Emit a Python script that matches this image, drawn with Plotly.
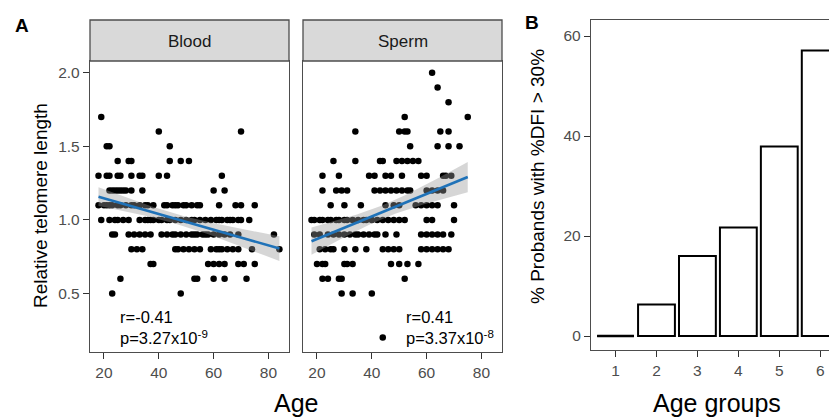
import numpy as np
import plotly.graph_objects as go

# page body has an 8px margin: the figure is sized to fill the rest of the 837x418 window
OFF = 8
W, H = 837 - OFF, 418 - OFF

# ---------------- data ----------------
blood_rows = {
    1.7: [19],
    1.6: [40, 70],
    1.5: [21, 22, 44],
    1.4: [25, 29, 30, 44, 48, 51],
    1.3: [18, 21, 22, 25, 26, 30, 33, 34, 40, 43, 63],
    1.2: [22, 23, 24, 25, 26, 27, 28, 30, 34, 60, 64],
    1.1: [18, 20, 21, 22, 23, 25, 26, 28, 30, 31, 33, 35, 36, 38, 42, 43, 45, 46, 47, 49, 50, 52, 54, 55, 62, 68, 70, 75],
    1.0: [19, 22, 24, 25, 27, 29, 33, 35, 36, 37, 38, 40, 41, 43, 44, 46, 48, 50, 52, 53, 55, 57, 59, 61, 62, 63, 65, 66, 67, 69, 70, 73],
    0.9: [23, 24, 29, 31, 33, 35, 37, 41, 43, 45, 46, 48, 50, 52, 53, 54, 56, 57, 58, 60, 62, 64, 66, 69, 82],
    0.8: [30, 32, 34, 46, 47, 49, 51, 53, 55, 59, 61, 62, 63, 65, 67, 69, 74, 84],
    0.7: [37, 38, 58, 60, 62, 64, 69, 71, 75],
    0.6: [26, 53, 54, 60, 64, 72],
    0.5: [23, 48],
}
sperm_rows = {
    2.0: [62],
    1.9: [64],
    1.8: [68],
    1.7: [52, 75],
    1.6: [34, 50, 52, 53, 65, 68],
    1.5: [54, 64, 68, 72],
    1.4: [26, 34, 43, 44, 49, 51, 53, 55, 57],
    1.3: [22, 28, 39, 41, 45, 47, 51, 58, 60, 66, 67, 69],
    1.2: [22, 27, 29, 31, 41, 43, 45, 47, 49, 51, 53, 54, 60, 62, 64, 66],
    1.1: [25, 30, 36, 45, 48, 50, 56, 58, 60, 62, 64, 70],
    1.0: [18, 19, 21, 22, 24, 25, 27, 28, 30, 31, 33, 35, 37, 38, 40, 42, 44, 46, 48, 50, 52, 60, 62, 70],
    0.9: [19, 21, 24, 26, 28, 30, 32, 34, 35, 37, 39, 41, 42, 45, 49, 58, 60, 62, 64, 66, 69],
    0.8: [21, 23, 25, 26, 30, 34, 38, 44, 46, 48, 50, 58, 60, 62, 64, 66, 68],
    0.7: [20, 22, 23, 30, 31, 33, 47, 50, 53, 57],
    0.6: [22, 24, 28, 29, 52],
    0.5: [29, 33, 40],
    0.2: [44],
}
blood_age = [a for v, ages in blood_rows.items() for a in ages]
blood_rtl = [v for v, ages in blood_rows.items() for a in ages]
sperm_age = [a for v, ages in sperm_rows.items() for a in ages]
sperm_rtl = [v for v, ages in sperm_rows.items() for a in ages]

blood_label = "r=-0.41<br>p=3.27x10<sup>-9</sup>"
sperm_label = "r=0.41<br>p=3.37x10<sup>-8</sup>"

age_groups = [1, 2, 3, 4, 5, 6]
pct_dfi = [0, 6.3, 16.0, 21.7, 37.9, 57.1]

# ---------------- helpers (window pixels -> paper fractions) ----------------
def px(p):
    return (p - OFF) / W

def py(p):
    return 1 - (p - OFF) / H

FONT = "Arial, Liberation Sans, sans-serif"
BLUE = "#1f72b8"

def lm_band(x, y):
    x = np.asarray(x, float); y = np.asarray(y, float)
    n = len(x)
    b1, b0 = np.polyfit(x, y, 1)
    res = y - (b0 + b1 * x)
    s = np.sqrt(np.sum(res ** 2) / (n - 2))
    xs = np.linspace(x.min(), x.max(), 80)
    fit = b0 + b1 * xs
    se = s * np.sqrt(1 / n + (xs - x.mean()) ** 2 / np.sum((x - x.mean()) ** 2))
    return xs, fit, fit - 1.97 * se, fit + 1.97 * se

fig = go.Figure()

panels = [("x", "y", blood_age, blood_rtl), ("x2", "y2", sperm_age, sperm_rtl)]
for xa, ya, ages, vals in panels:
    fig.add_trace(go.Scatter(x=ages, y=vals, mode="markers", xaxis=xa, yaxis=ya,
                             marker=dict(color="black", size=6.5), showlegend=False, hoverinfo="skip"))
    xs, fit, lo, hi = lm_band(ages, vals)
    fig.add_trace(go.Scatter(x=np.concatenate([xs, xs[::-1]]), y=np.concatenate([hi, lo[::-1]]),
                             fill="toself", fillcolor="rgba(153,153,153,0.4)", line=dict(width=0),
                             mode="lines", xaxis=xa, yaxis=ya, showlegend=False, hoverinfo="skip"))
    fig.add_trace(go.Scatter(x=xs, y=fit, mode="lines", line=dict(color=BLUE, width=2.6),
                             xaxis=xa, yaxis=ya, showlegend=False, hoverinfo="skip"))

fig.add_trace(go.Bar(x=age_groups, y=pct_dfi, width=0.9, xaxis="x3", yaxis="y3",
                     marker=dict(color="white", line=dict(color="black", width=2)),
                     showlegend=False, hoverinfo="skip"))
# zero-height bars are drawn as their outline
for g, v in zip(age_groups, pct_dfi):
    if v == 0:
        fig.add_trace(go.Scatter(x=[g - 0.45, g + 0.45], y=[v, v], mode="lines",
                                 line=dict(color="black", width=2.5), xaxis="x3", yaxis="y3",
                                 showlegend=False, hoverinfo="skip"))

tickfont = dict(family=FONT, size=15.5, color="#4d4d4d")
common = dict(ticks="outside", ticklen=6, tickwidth=1.2, tickcolor="#333", showgrid=False,
              zeroline=False, showline=True, linecolor="#4d4d4d", linewidth=1.3, tickfont=tickfont)
sc_x = dict(common, range=[14.9, 87.5], tickvals=[20, 40, 60, 80], mirror=True)
sc_y = dict(common, range=[0.102, 2.08], tickvals=[0.5, 1.0, 1.5, 2.0], tickformat=".1f",
            mirror=True, domain=[py(352), py(61)])

fig.update_layout(
    width=W, height=H, margin=dict(l=0, r=0, t=0, b=0),
    paper_bgcolor="white", plot_bgcolor="white",
    font=dict(family=FONT, color="black"),
    xaxis=dict(sc_x, domain=[px(90), px(289)], anchor="y"),
    yaxis=dict(sc_y, anchor="x"),
    xaxis2=dict(sc_x, domain=[px(303), px(502)], anchor="y2"),
    yaxis2=dict(sc_y, anchor="x2", matches="y", showticklabels=False, ticks=""),
    xaxis3=dict(common, domain=[px(591), 1.0], anchor="y3", range=[0.4, 6.41], tickvals=age_groups,
                mirror=True),
    yaxis3=dict(common, domain=[py(350), py(20)], anchor="x3", range=[-2.8, 63.2],
                tickvals=[0, 20, 40, 60]),
)

def note(x, y, text, size, **kw):
    args = dict(xref="paper", yref="paper", x=px(x), y=py(y), text=text, showarrow=False,
                xanchor="center", yanchor="middle", font=dict(family=FONT, size=size, color="black"))
    args.update(kw)
    fig.add_annotation(**args)

# facet strips
for x0, x1, label in [(90, 289, "Blood"), (303, 502, "Sperm")]:
    fig.add_shape(type="rect", xref="paper", yref="paper", x0=px(x0), x1=px(x1), y0=py(61), y1=py(20),
                  fillcolor="#d9d9d9", line=dict(color="#4d4d4d", width=1.3))
    note((x0 + x1) / 2, 42, label, 17, font=dict(family=FONT, size=17, color="#1a1a1a"))

# r / p labels
note(118, 327, blood_label, 16.5, xanchor="left", align="left")
note(404, 327, sperm_label, 16.5, xanchor="left", align="left")

# titles
note(40, 206, "Relative telomere length", 19, textangle=-90)
note(296, 403, "Age", 25)
note(538, 177, "% Probands with %DFI > 30%", 19, textangle=-90)
note(717, 403, "Age groups", 25)
note(22, 25, "<b>A</b>", 19)
note(532, 22, "<b>B</b>", 19)

fig.write_html("out.html")
